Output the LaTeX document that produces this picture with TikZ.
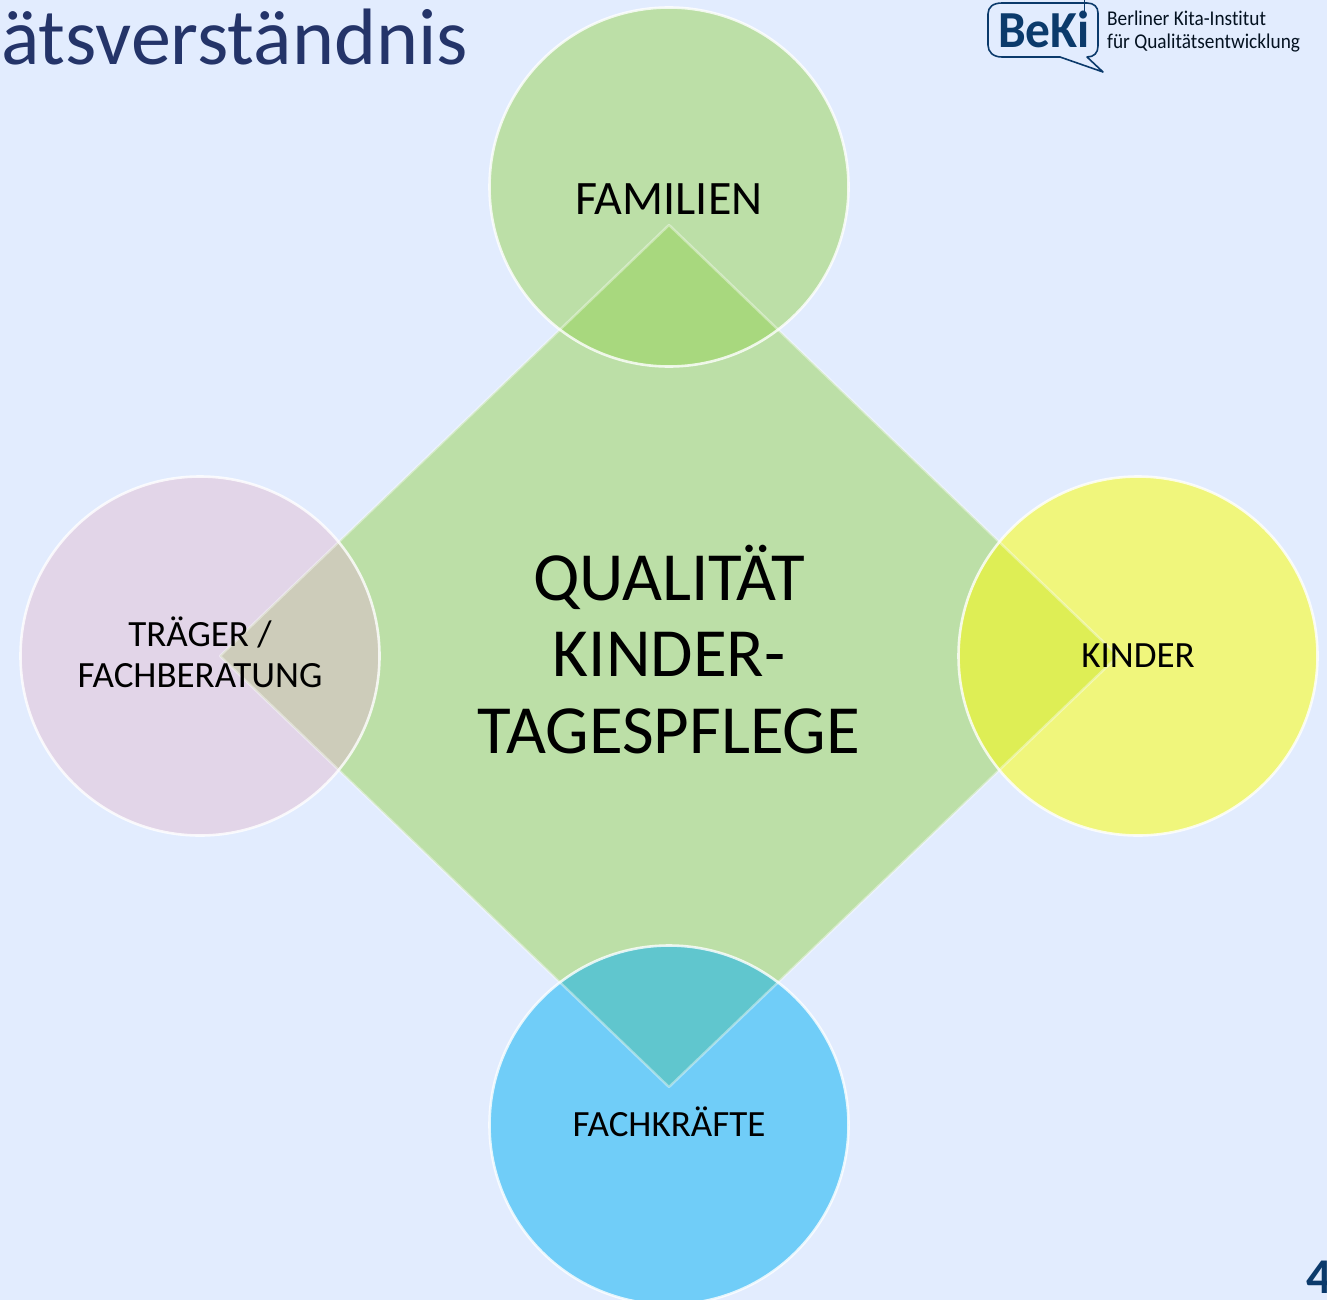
\documentclass[tikz,border=0pt]{standalone}
\usepackage{fontspec}
\setmainfont[Ligatures=NoCommon]{Carlito}
\definecolor{bgc}{HTML}{E2ECFE}
\definecolor{greenc}{HTML}{BCDFA7}
\definecolor{greenov}{HTML}{A8D87E}
\definecolor{pinkc}{HTML}{E2D5E8}
\definecolor{pinkov}{HTML}{CDCCBA}
\definecolor{yellowc}{HTML}{F0F67C}
\definecolor{yellowov}{HTML}{DEEE55}
\definecolor{bluec}{HTML}{70CDF8}
\definecolor{blueov}{HTML}{60C6CE}
\definecolor{titlec}{HTML}{243469}
\definecolor{logoc}{HTML}{0B3A6B}
\tikzset{
  ring/.style={circle,minimum size=359pt,inner sep=0pt,line width=2.6pt,draw=white,draw opacity=.8},
  lab/.style={align=center,text=black,inner sep=0pt,font=\fontsize{37}{41}\selectfont},
  small/.style={inner sep=0pt,anchor=base west,text=black!70!logoc,transform shape,xscale=.92,font=\fontsize{21}{22}\selectfont},
}
\begin{document}
\begin{tikzpicture}[x=1pt,y=-1pt]
\path[use as bounding box,fill=bgc] (0,0) rectangle (1327,1300);
\coordinate (dt) at (669,225);
\coordinate (dr) at (1118,656);
\coordinate (db) at (669,1087);
\coordinate (dl) at (220,656);
\coordinate (cf) at (669,187);
\coordinate (ct) at (200,656);
\coordinate (ck) at (1138,656);
\coordinate (cb) at (669,1125);
\node[inner sep=0pt,anchor=base west,text=titlec,font=\fontsize{80}{80}\selectfont] (title) at (1,65) {ätsverständnis};
\fill[greenc] (cf) circle (179.5);
\fill[pinkc] (ct) circle (179.5);
\fill[yellowc] (ck) circle (179.5);
\fill[bluec] (cb) circle (179.5);
\path[fill=greenc] (dt)--(dr)--(db)--(dl)--cycle;
\begin{scope}\clip (dt)--(dr)--(db)--(dl)--cycle;
\fill[greenov] (cf) circle (179.5);
\fill[pinkov] (ct) circle (179.5);
\fill[yellowov] (ck) circle (179.5);
\fill[blueov] (cb) circle (179.5);
\end{scope}
\draw[white,opacity=.4,line width=2.4pt,line join=round] (dt)--(dr)--(db)--(dl)--cycle;
\node[ring] (fam) at (cf) {};
\node[ring] (tra) at (ct) {};
\node[ring] (kin) at (ck) {};
\node[ring] (fach) at (cb) {};
\node[lab,font=\fontsize{48}{48}\selectfont] (famt) at (669,199) {FAMILIEN};
\node[lab] (trat) at (200,652) {TRÄGER /\\FACHBERATUNG};
\node[lab] (kint) at (1138,656) {KINDER};
\node[lab] (facht) at (669,1122) {FACHKRÄFTE};
\node[lab,font=\fontsize{69}{76.5}\selectfont] (q) at (669,649.5) {QUALITÄT\\KINDER-\\TAGESPFLEGE};
% logo
\draw[logoc,line width=1.6pt,line join=round] (1002,3)--(1087,3) .. controls (1094,3) and (1098,7) .. (1098,13)--(1098,46) .. controls (1098,53) and (1094,57) .. (1087,57)--(1103,72)--(1060,57)--(1002,57) .. controls (993,57) and (988,52) .. (988,45)--(988,14) .. controls (988,7) and (993,3) .. (1002,3)--cycle;
\draw[logoc,line width=1pt] (1084,0)--(1084,14);
\node[inner sep=0pt,anchor=base west,text=logoc,transform shape,xscale=.95,font=\bfseries\fontsize{52}{52}\selectfont] (beki) at (998,48) {BeKi};
\node[small] (inst1) at (1107,26) {Berliner Kita-Institut};
\node[small] (inst2) at (1107,49) {für Qualitätsentwicklung};
\node[inner sep=0pt,anchor=base west,text=logoc,font=\bfseries\fontsize{50}{50}\selectfont] (num) at (1306,1293) {4};
\end{tikzpicture}
\end{document}
